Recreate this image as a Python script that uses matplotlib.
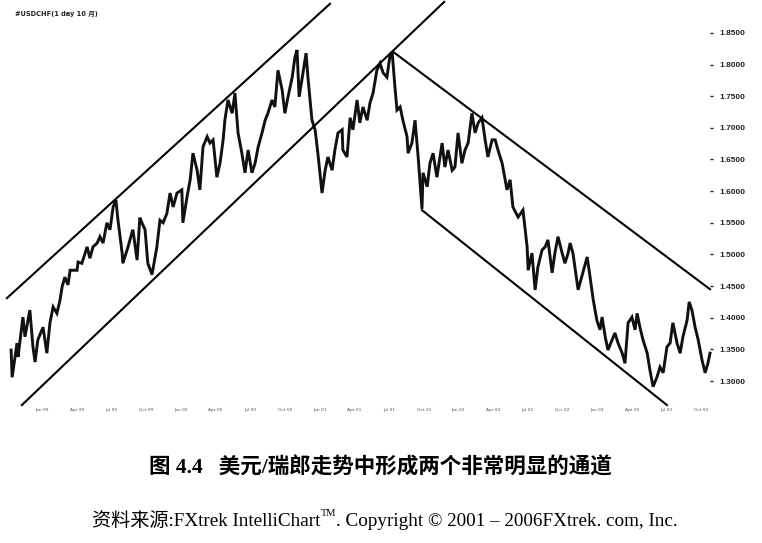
import matplotlib
matplotlib.use("Agg")
import matplotlib.pyplot as plt

# ---- data (x in quarters from first date label, y = USD/CHF price) ----
qtr = [-0.89, -0.86, -0.72, -0.69, -0.55, -0.49, -0.35, -0.26, -0.20, -0.12,
       0.03, 0.14, 0.23, 0.32, 0.43, 0.52, 0.58, 0.66, 0.75, 0.81,
       1.01, 1.04, 1.15, 1.30, 1.38, 1.47, 1.59, 1.67, 1.76, 1.87,
       1.96, 2.05, 2.13, 2.19, 2.31, 2.33, 2.48, 2.59, 2.62, 2.74,
       2.82, 2.88, 2.97, 3.05, 3.17, 3.31, 3.40, 3.49, 3.60, 3.69,
       3.78, 3.89, 4.03, 4.06, 4.18, 4.27, 4.35, 4.47, 4.55, 4.64,
       4.76, 4.84, 4.93, 5.04, 5.13, 5.22, 5.27, 5.36, 5.48, 5.56,
       5.65, 5.76, 5.85, 5.94, 6.05, 6.14, 6.23, 6.34, 6.43, 6.51,
       6.63, 6.71, 6.80, 6.92, 7.00, 7.09, 7.21, 7.29, 7.35, 7.41,
       7.49, 7.61, 7.67, 7.78, 7.87, 7.95, 8.07, 8.16, 8.24, 8.36,
       8.44, 8.53, 8.65, 8.67, 8.79, 8.88, 8.96, 9.08, 9.16, 9.25,
       9.37, 9.45, 9.54, 9.65, 9.74, 9.83, 9.94, 10.03, 10.09, 10.17,
       10.23, 10.32, 10.40, 10.52, 10.55, 10.66, 10.75, 10.84, 10.95, 10.98,
       11.10, 11.18, 11.27, 11.38, 11.53, 11.61, 11.70, 11.82, 11.90, 11.99,
       12.10, 12.19, 12.28, 12.39, 12.48, 12.57, 12.68, 12.77, 12.85, 12.97,
       13.06, 13.14, 13.26, 13.40, 13.49, 13.57, 13.72, 13.86, 13.98, 14.01,
       14.12, 14.21, 14.29, 14.41, 14.50, 14.58, 14.70, 14.78, 14.87, 14.99,
       15.07, 15.16, 15.22, 15.30, 15.45, 15.56, 15.71, 15.79, 15.88, 15.99,
       16.08, 16.14, 16.23, 16.31, 16.43, 16.51, 16.60, 16.72, 16.80, 16.89,
       17.00, 17.09, 17.15, 17.23, 17.32, 17.44, 17.52, 17.61, 17.72, 17.81,
       17.90, 18.01, 18.10, 18.18, 18.30, 18.39, 18.47, 18.59, 18.65, 18.73,
       18.82, 18.91, 19.02, 19.11, 19.19, 19.25]
price = [1.349, 1.306, 1.360, 1.338, 1.401, 1.370, 1.412, 1.354, 1.330, 1.365,
         1.385, 1.344, 1.392, 1.417, 1.407, 1.428, 1.449, 1.464, 1.452, 1.475,
         1.475, 1.488, 1.486, 1.512, 1.494, 1.512, 1.518, 1.528, 1.518, 1.550,
         1.539, 1.575, 1.586, 1.554, 1.502, 1.486, 1.512, 1.534, 1.539, 1.491,
         1.558, 1.550, 1.539, 1.486, 1.468, 1.512, 1.554, 1.550, 1.565, 1.597,
         1.575, 1.597, 1.602, 1.550, 1.591, 1.618, 1.660, 1.633, 1.602, 1.670,
         1.686, 1.676, 1.681, 1.622, 1.644, 1.681, 1.712, 1.744, 1.723, 1.755,
         1.692, 1.660, 1.629, 1.665, 1.629, 1.644, 1.670, 1.692, 1.712, 1.723,
         1.744, 1.733, 1.791, 1.760, 1.723, 1.749, 1.780, 1.812, 1.823, 1.749,
         1.776, 1.818, 1.776, 1.712, 1.697, 1.660, 1.597, 1.633, 1.654, 1.633,
         1.665, 1.692, 1.697, 1.665, 1.654, 1.716, 1.697, 1.744, 1.708, 1.733,
         1.712, 1.739, 1.755, 1.791, 1.802, 1.787, 1.780, 1.815, 1.820, 1.765,
         1.728, 1.733, 1.712, 1.686, 1.660, 1.676, 1.712, 1.654, 1.572, 1.629,
         1.607, 1.644, 1.660, 1.622, 1.676, 1.638, 1.665, 1.633, 1.638, 1.692,
         1.644, 1.665, 1.676, 1.723, 1.692, 1.708, 1.716, 1.681, 1.654, 1.681,
         1.681, 1.665, 1.644, 1.602, 1.618, 1.575, 1.559, 1.570, 1.512, 1.475,
         1.502, 1.444, 1.480, 1.507, 1.512, 1.523, 1.471, 1.502, 1.528, 1.502,
         1.486, 1.502, 1.518, 1.502, 1.444, 1.466, 1.496, 1.466, 1.430, 1.396,
         1.381, 1.401, 1.370, 1.349, 1.365, 1.376, 1.360, 1.344, 1.328, 1.392,
         1.401, 1.381, 1.407, 1.385, 1.365, 1.344, 1.317, 1.291, 1.306, 1.322,
         1.313, 1.354, 1.360, 1.392, 1.360, 1.344, 1.370, 1.396, 1.425, 1.412,
         1.385, 1.365, 1.333, 1.313, 1.328, 1.344]

# channel lines: (x0, x1), (y0, y1)
up_chan_top_x = [-1.01, 8.30]
up_chan_top_y = [1.431, 1.896]
up_chan_bot_x = [-0.58, 11.59]
up_chan_bot_y = [1.262, 1.899]
dn_chan_top_x = [10.12, 19.25]
dn_chan_top_y = [1.820, 1.445]
dn_chan_bot_x = [10.95, 18.01]
dn_chan_bot_y = [1.570, 1.262]

y_ticks = [1.30, 1.35, 1.40, 1.45, 1.50, 1.55, 1.60, 1.65, 1.70, 1.75, 1.80, 1.85]
x_labels = ["Jan 99", "Apr 99", "Jul 99", "Oct 99", "Jan 00", "Apr 00", "Jul 00",
            "Oct 00", "Jan 01", "Apr 01", "Jul 01", "Oct 01", "Jan 02", "Apr 02",
            "Jul 02", "Oct 02", "Jan 03", "Apr 03", "Jul 03", "Oct 03"]

caption = "图 4.4   美元/瑞郎走势中形成两个非常明显的通道"
source_parts = ["资料来源:FXtrek IntelliChart", "TM", ". Copyright © 2001 – 2006FXtrek. com, Inc."]
chart_title = "#USDCHF(1 day 10 月)"

W, H = 762, 543
fig = plt.figure(figsize=(W / 100, H / 100), dpi=100)
ax = fig.add_axes([0, 1 - 404 / H, 710 / W, 404 / H])
ax.set_xlim(-1.21, 19.25)
ax.set_ylim(1.2637, 1.902)

ax.plot(qtr, price, color="#111111", lw=2.1, solid_joinstyle="miter", clip_on=False)
for xs, ys in [(up_chan_top_x, up_chan_top_y), (up_chan_bot_x, up_chan_bot_y),
               (dn_chan_top_x, dn_chan_top_y), (dn_chan_bot_x, dn_chan_bot_y)]:
    ax.plot(xs, ys, color="#000000", lw=1.5, clip_on=False)

for s in ax.spines.values():
    s.set_visible(False)

ax.yaxis.tick_right()
ax.set_yticks(y_ticks)
ax.set_yticklabels([f"{v:.4f}" for v in y_ticks], fontsize=6,
                   family="Liberation Sans", weight="bold", color="#222222")
ax.tick_params(axis="y", direction="out", length=2.5, width=1, pad=4, colors="#222222")

xpos = list(range(len(x_labels)))
ax.set_xticks(xpos)
ax.set_xticklabels(x_labels, fontsize=3.2, color="#555555")
ax.tick_params(axis="x", which="major", length=0, pad=3)
ax.set_xticks([p for p in xpos if p % 4 != 0], minor=True)
ax.tick_params(axis="x", which="minor", direction="in", length=3, width=1.2, color="#222222")

fig.text(15 / W, 1 - 14 / H, chart_title, fontsize=4.8, weight="bold",
         family=["DejaVu Sans", "Noto Sans CJK SC"], va="center", ha="left", color="#222222")

fig.text(380 / W, 1 - 468 / H, caption, fontsize=15.5, weight="bold",
         family=["Liberation Serif", "Noto Sans CJK SC"], ha="center", va="center")

# source line with superscript TM, laid out piece by piece and centred
fam = ["Liberation Serif", "Noto Sans CJK SC"]
sizes = [13.8, 7.5, 13.8]
renderer = fig.canvas.get_renderer()
texts = []
for part, fs in zip(source_parts, sizes):
    t = fig.text(0, 1 - 521 / H, part, fontsize=fs, family=fam, ha="left", va="center")
    texts.append(t)
widths = [t.get_window_extent(renderer).width for t in texts]
x = 385 - sum(widths) / 2
for i, (t, w) in enumerate(zip(texts, widths)):
    if i == 1:
        t.set_position((x / W, 1 - 514 / H))
    else:
        t.set_position((x / W, 1 - 521 / H))
    x += w

fig.savefig("out.png", dpi=100)
